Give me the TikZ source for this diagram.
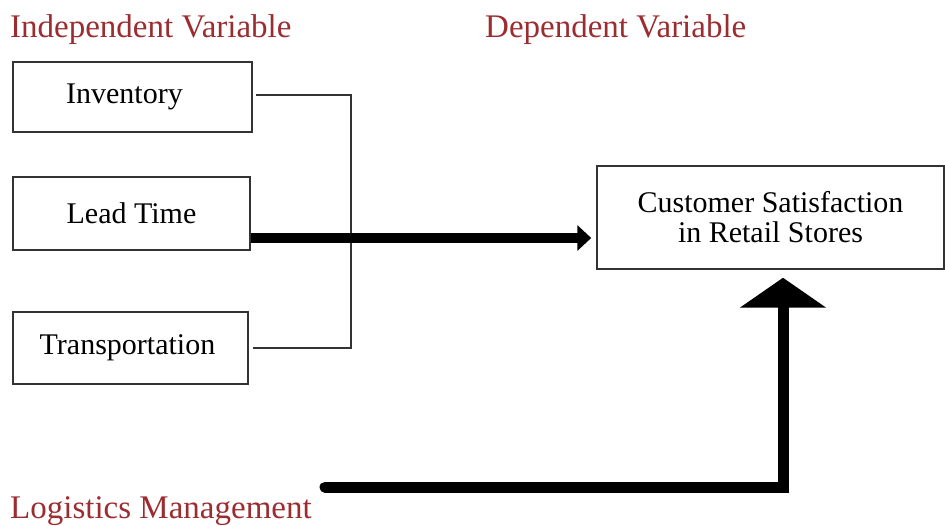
\documentclass[tikz,border=0pt]{standalone}
\usepackage{fontspec}
\setmainfont{Liberation Serif}
\usetikzlibrary{arrows.meta,positioning}
\definecolor{headred}{RGB}{155,45,48}

\begin{document}
\begin{tikzpicture}
[
	               x = 1pt,
	               y = -1pt,
	     box/.style = { draw=black!80, line width=1.5pt, inner sep=0pt, font=\fontsize{30}{30}\selectfont },
	 heading/.style = { text=headred, anchor=base west, inner sep=0pt, font=\fontsize{33}{33}\selectfont },
	 bracket/.style = { draw=black!80, line width=1.6pt },
	boldline/.style = { draw=black, line width=10pt }
]
	\useasboundingbox (0,0) rectangle (945,526);

	% headings
	\node (indep) at (10,38)   [heading] {Independent Variable};
	\node (dep)   at (485,38)  [heading] {Dependent Variable};
	\node (logis) at (10,518)  [heading] {Logistics Management};

	% independent variables
	\node (inv)   at (132.5,97)    [box, minimum width=239pt, minimum height=70pt] {Inventory\hspace*{16pt}};
	\node (lead)  at (131.5,213.5) [box, minimum width=237pt, minimum height=73pt] {Lead Time};
	\node (trans) at (130.5,348)   [box, minimum width=235pt, minimum height=72pt] {Transportation\hspace*{6pt}};

	% dependent variable
	\node (cust)  at (770.5,217.5) [box, minimum width=347pt, minimum height=103pt, align=center]
		{Customer Satisfaction\\in Retail Stores};

	% bracket round the three boxes
	\draw [bracket] ([xshift=3pt,yshift=2pt]inv.east) -- ++(95,0) |- ([xshift=4pt]trans.east);

	% effect
	\draw [boldline, -{Triangle[length=14pt,width=25pt]}]
		([yshift=-24.5pt]lead.east) -- ([xshift=-5pt,yshift=-20.5pt]cust.west);

	% logistics management
	\coordinate (logisout) at (325,487);
	\draw [boldline, line width=11pt, line cap=round, -{Triangle[length=30pt,width=85pt]}]
		(logisout) -| ([xshift=12.5pt,yshift=-8pt]cust.south);

\end{tikzpicture}
\end{document}
